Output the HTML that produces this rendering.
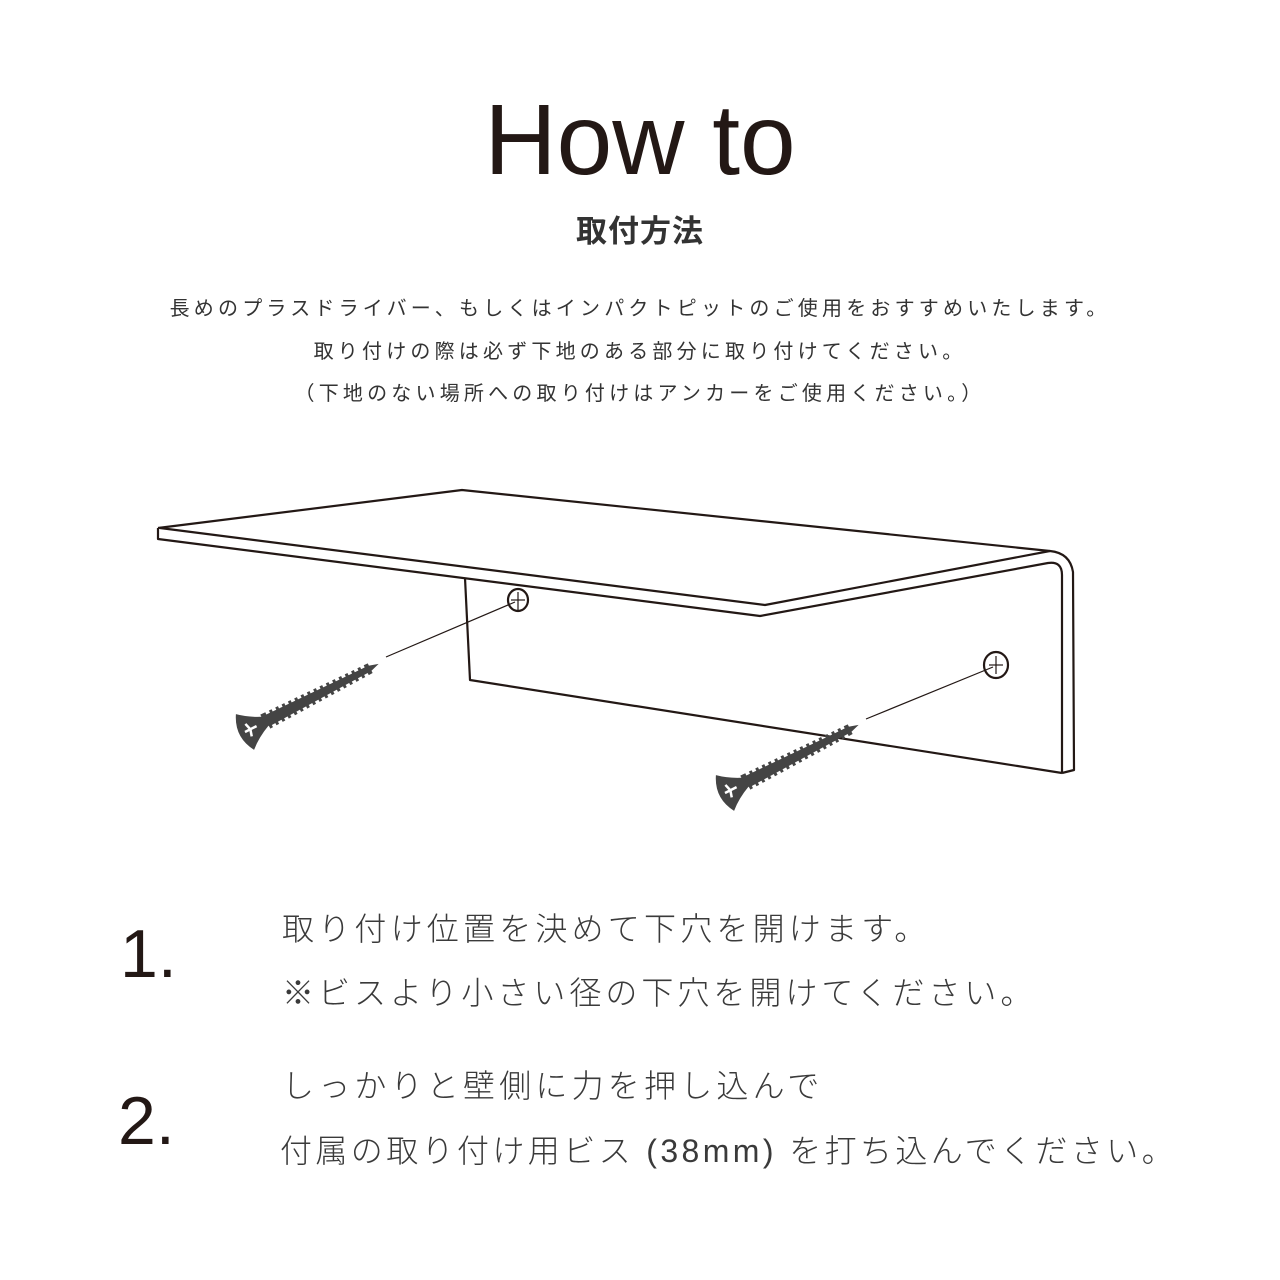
<!DOCTYPE html>
<html><head><meta charset="utf-8"><style>
html,body{margin:0;padding:0;background:#fff;}
body{width:1280px;height:1280px;position:relative;overflow:hidden;font-family:"Liberation Sans","Noto Sans CJK JP",sans-serif;color:#231815;}
.a{position:absolute;white-space:nowrap;line-height:1;}
.c{left:0;width:1280px;text-align:center;}
.s{font-weight:300;color:#3a3a3a;font-size:32px;letter-spacing:4.2px;}
.n{font-size:68px;color:#231815;}
.i{font-size:20px;letter-spacing:4.2px;color:#333;}
</style></head><body>
<div class="a c" style="top:90px;font-size:100px;">How to</div>
<div class="a c" style="top:216px;font-size:31px;font-weight:bold;color:#333;letter-spacing:1px;">取付方法</div>
<div class="a c i" style="top:299px;">長めのプラスドライバー、もしくはインパクトピットのご使用をおすすめいたします。</div>
<div class="a c i" style="top:342px;">取り付けの際は必ず下地のある部分に取り付けてください。</div>
<div class="a c i" style="top:384px;">（下地のない場所への取り付けはアンカーをご使用ください。）</div>

<svg class="a" style="left:0;top:0" width="1280" height="1280" viewBox="0 0 1280 1280">
<g fill="none" stroke="#231815" stroke-width="2.2" stroke-linejoin="round">
<path d="M158 528 L462 490 L1050 551 Q1070 553 1073 572 L1074 770 L1062 773"/>
<path d="M158 528 L158 539 L760 616 L1048 563 Q1062 561 1062 575 L1062 773"/>
<path d="M160 528 L765 605 L1050 551"/>
<path d="M465 578 L470 680 L1062 773"/>
<ellipse cx="518" cy="600" rx="10" ry="11"/>
<ellipse cx="996" cy="665" rx="12" ry="13"/>
</g>
<g stroke="#231815" stroke-width="1.2">
<line x1="386" y1="657" x2="515" y2="602"/>
<line x1="866" y1="719" x2="993" y2="667"/>
<line x1="511" y1="600" x2="525" y2="600"/><line x1="518" y1="592" x2="518" y2="610"/>
<line x1="989" y1="665" x2="1003" y2="665"/><line x1="996" y1="656" x2="996" y2="674"/>
</g>
<g fill="#444">
<g transform="translate(245,732) rotate(-27)">
<path d="M0 -20 Q-12 0 0 20 Q10 11 24 5 L140 3 L150 0 L140 -3 L24 -5 Q10 -11 0 -20Z"/>
<path d="M24 -6 L138 -3 L138 3 L24 6Z" stroke="#444" stroke-width="5" stroke-dasharray="3 4"/>
<path d="M4 -7 L6 0 L4 7 M0 0 L13 0" stroke="#fff" stroke-width="2.5" fill="none"/>
</g>
<g transform="translate(725,793) rotate(-27)">
<path d="M0 -20 Q-12 0 0 20 Q10 11 24 5 L140 3 L150 0 L140 -3 L24 -5 Q10 -11 0 -20Z"/>
<path d="M24 -6 L138 -3 L138 3 L24 6Z" stroke="#444" stroke-width="5" stroke-dasharray="3 4"/>
<path d="M4 -7 L6 0 L4 7 M0 0 L13 0" stroke="#fff" stroke-width="2.5" fill="none"/>
</g>
</g>
</svg>

<div class="a n" style="left:120px;top:920px;">1.</div>
<div class="a s" style="left:282px;top:913px;">取り付け位置を決めて下穴を開けます。</div>
<div class="a s" style="left:282px;top:977px;letter-spacing:4px;">※ビスより小さい径の下穴を開けてください。</div>
<div class="a n" style="left:118px;top:1087px;">2.</div>
<div class="a s" style="left:282px;top:1070px;">しっかりと壁側に力を押し込んで</div>
<div class="a s" style="left:280px;top:1135px;letter-spacing:3.4px;">付属の取り付け用ビス (38mm) を打ち込んでください。</div>
</body></html>
